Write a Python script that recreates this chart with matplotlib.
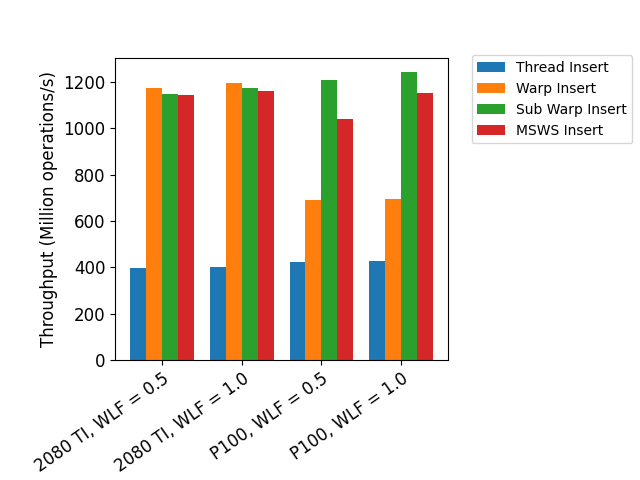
import numpy as np
import matplotlib.pyplot as plt

groups = ["2080 TI, WLF = 0.5", "2080 TI, WLF = 1.0", "P100, WLF = 0.5", "P100, WLF = 1.0"]
series = ["Thread Insert", "Warp Insert", "Sub Warp Insert", "MSWS Insert"]
thread = [397, 402, 422, 428]
warp = [1172, 1196, 690, 695]
subwarp = [1148, 1173, 1207, 1243]
msws = [1143, 1160, 1040, 1153]

fig = plt.figure(figsize=(6.4, 4.8))
ax = fig.add_axes([0.18, 0.25, 0.52, 0.63])
x = np.arange(len(groups))
w = 0.2
for i, (name, vals) in enumerate(zip(series, [thread, warp, subwarp, msws])):
    ax.bar(x + (i - 1.5) * w, vals, w, label=name)
ax.set_xticks(x)
ax.set_xticklabels(groups, rotation=35, ha="right", rotation_mode="anchor", fontsize=12)
ax.tick_params(axis="y", labelsize=12)
ax.set_ylabel("Throughput (Million operations/s)", fontsize=12)
ax.legend(loc="upper left", bbox_to_anchor=(1.05, 1.03))
fig.savefig("out.png", dpi=100)
